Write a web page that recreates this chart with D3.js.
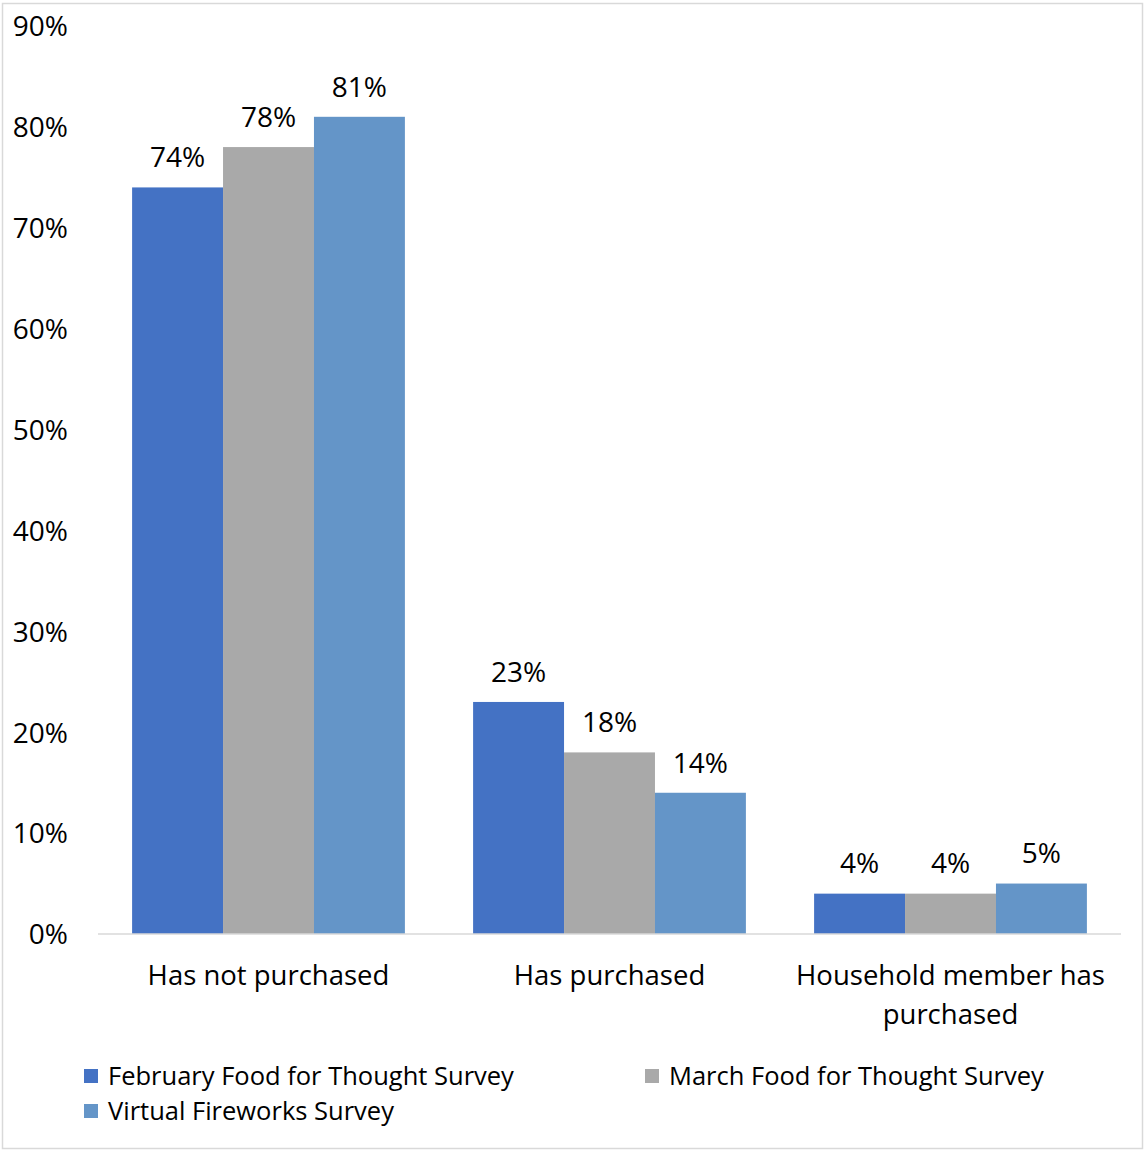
<!DOCTYPE html>
<html><head><meta charset="utf-8">
<script src="https://cdn.jsdelivr.net/npm/d3@7"></script>
<style>body{margin:0;background:#fff}svg{display:block}text{font-family:"Open Sans",sans-serif;fill:#000}</style>
</head><body>
<script>
const categories = ["Has not purchased", "Has purchased", "Household member has purchased"];
const seriesNames = ["February Food for Thought Survey", "March Food for Thought Survey", "Virtual Fireworks Survey"];
const february = [74, 23, 4];
const march = [78, 18, 4];
const fireworks = [81, 14, 5];
const yTicks = [0, 10, 20, 30, 40, 50, 60, 70, 80, 90];
const colors = ["#4472C4", "#A9A9A9", "#6495C8"];

const W = 1145, H = 1151;
const svg = d3.select("body").append("svg").attr("width", W).attr("height", H);
svg.append("rect").attr("x", 2.5).attr("y", 3.5).attr("width", 1140).attr("height", 1145)
  .attr("fill", "#fff").attr("stroke", "#D9D9D9").attr("stroke-width", 1.5);

const x0 = d3.scaleBand().domain(categories).range([98, 1121]).paddingInner(0.2).paddingOuter(0.1);
const x1 = d3.scaleBand().domain(seriesNames).range([0, x0.bandwidth()]);
const y = d3.scaleLinear().domain([0, 90]).range([934, 26]);

const allSeries = [february, march, fireworks];

// y axis labels
const yAxis = d3.axisLeft(y).tickValues(yTicks).tickFormat(d => d + "%").tickSize(0).tickPadding(0);
const gy = svg.append("g").attr("transform", "translate(68,0)").call(yAxis);
gy.select(".domain").remove();
gy.selectAll("text").attr("font-size", 28).attr("font-family", "'Open Sans',sans-serif").attr("fill", "#000").attr("dy", "0.35em");

// bars
categories.forEach((c, ci) => {
  const g = svg.append("g").attr("transform", `translate(${x0(c)},0)`);
  seriesNames.forEach((s, si) => {
    const v = allSeries[si][ci];
    g.append("rect").attr("x", x1(s)).attr("y", y(v)).attr("width", x1.bandwidth()).attr("height", y(0) - y(v))
      .attr("fill", colors[si]);
    g.append("text").attr("x", x1(s) + x1.bandwidth() / 2).attr("y", y(v) - 30).attr("dy", "0.35em")
      .attr("text-anchor", "middle").attr("font-size", 28).text(v + "%");
  });
});

// baseline
svg.append("line").attr("x1", 98).attr("x2", 1121).attr("y1", 934).attr("y2", 934)
  .attr("stroke", "#D9D9D9").attr("stroke-width", 1.5);

// x labels
const xLabelLines = [["Has not purchased"], ["Has purchased"], ["Household member has", "purchased"]];
categories.forEach((c, ci) => {
  const cx = x0(c) + x0.bandwidth() / 2;
  xLabelLines[ci].forEach((line, li) => {
    svg.append("text").attr("x", cx).attr("y", 975 + li * 39).attr("dy", "0.35em")
      .attr("text-anchor", "middle").attr("font-size", 27.5).text(line);
  });
});

// legend
const legendPos = [[84, 1076], [645, 1076], [84, 1111]];
seriesNames.forEach((s, si) => {
  const [lx, ly] = legendPos[si];
  svg.append("rect").attr("x", lx).attr("y", ly - 7).attr("width", 14).attr("height", 14).attr("fill", colors[si]);
  svg.append("text").attr("x", lx + 24).attr("y", ly).attr("dy", "0.35em").attr("font-size", 25.5).text(s);
});
</script>
</body></html>
